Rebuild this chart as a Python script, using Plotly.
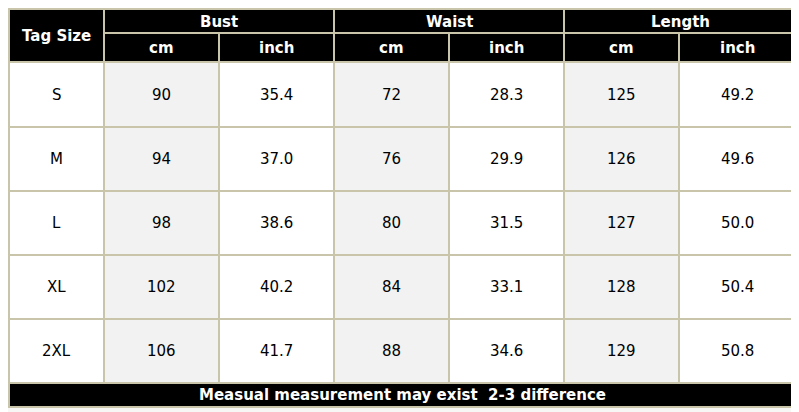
import plotly.graph_objects as go

sizes = ["S", "M", "L", "XL", "2XL"]
bust_cm = ["90", "94", "98", "102", "106"]
bust_in = ["35.4", "37.0", "38.6", "40.2", "41.7"]
waist_cm = ["72", "76", "80", "84", "88"]
waist_in = ["28.3", "29.9", "31.5", "33.1", "34.6"]
length_cm = ["125", "126", "127", "128", "129"]
length_in = ["49.2", "49.6", "50.0", "50.4", "50.8"]
groups = ["Bust", "Waist", "Length"]
units = ["cm", "inch"]
note = "Measual measurement may exist  2-3 difference"

cols = [9, 104, 219, 334, 449, 564, 679, 796]
rows = [9, 33, 62, 127, 191, 255, 319, 383, 407]
border = "#c9c5aa"
columns = [sizes, bust_cm, bust_in, waist_cm, waist_in, length_cm, length_in]

fig = go.Figure()
shapes, ann = [], []
def rect(x0, x1, y0, y1, fill):
    shapes.append(dict(type="rect", x0=x0, x1=x1, y0=y0, y1=y1, fillcolor=fill,
                       line=dict(color=border, width=2), layer="below"))
def text(x, y, t, bold=False, color="black", size=15):
    ann.append(dict(x=x, y=y, text=f"<b>{t}</b>" if bold else t, showarrow=False,
                    font=dict(family="DejaVu Sans", size=size, color=color)))

rect(cols[0], cols[1], rows[0], rows[2], "black")
text((cols[0]+cols[1])/2, (rows[0]+rows[2])/2, "Tag Size", True, "white")
for g, name in enumerate(groups):
    a, b = cols[1+2*g], cols[3+2*g]
    rect(a, b, rows[0], rows[1], "black")
    text((a+b)/2, (rows[0]+rows[1])/2 + 1, name, True, "white")
    for u in range(2):
        c0, c1 = cols[1+2*g+u], cols[2+2*g+u]
        rect(c0, c1, rows[1], rows[2], "black")
        text((c0+c1)/2, (rows[1]+rows[2])/2, units[u], True, "white")
for ci, col in enumerate(columns):
    fill = "#f2f2f2" if ci in (1, 3, 5) else "white"
    for ri, v in enumerate(col):
        y0, y1 = rows[2+ri], rows[3+ri]
        rect(cols[ci], cols[ci+1], y0, y1, fill)
        text((cols[ci]+cols[ci+1])/2, (y0+y1)/2, v, size=15)
rect(cols[0], cols[-1], rows[-2], rows[-1], "black")
text((cols[0]+cols[-1])/2, (rows[-2]+rows[-1])/2, note, True, "white", 15)

fig.update_layout(width=791, height=404, margin=dict(l=0, r=0, t=0, b=0),
                  paper_bgcolor="#f7f7f5", plot_bgcolor="#f7f7f5",
                  shapes=shapes, annotations=ann,
                  xaxis=dict(range=[8, 799], visible=False, fixedrange=True),
                  yaxis=dict(range=[412, 8], visible=False, fixedrange=True),
                  showlegend=False)
fig.write_html("out.html")
